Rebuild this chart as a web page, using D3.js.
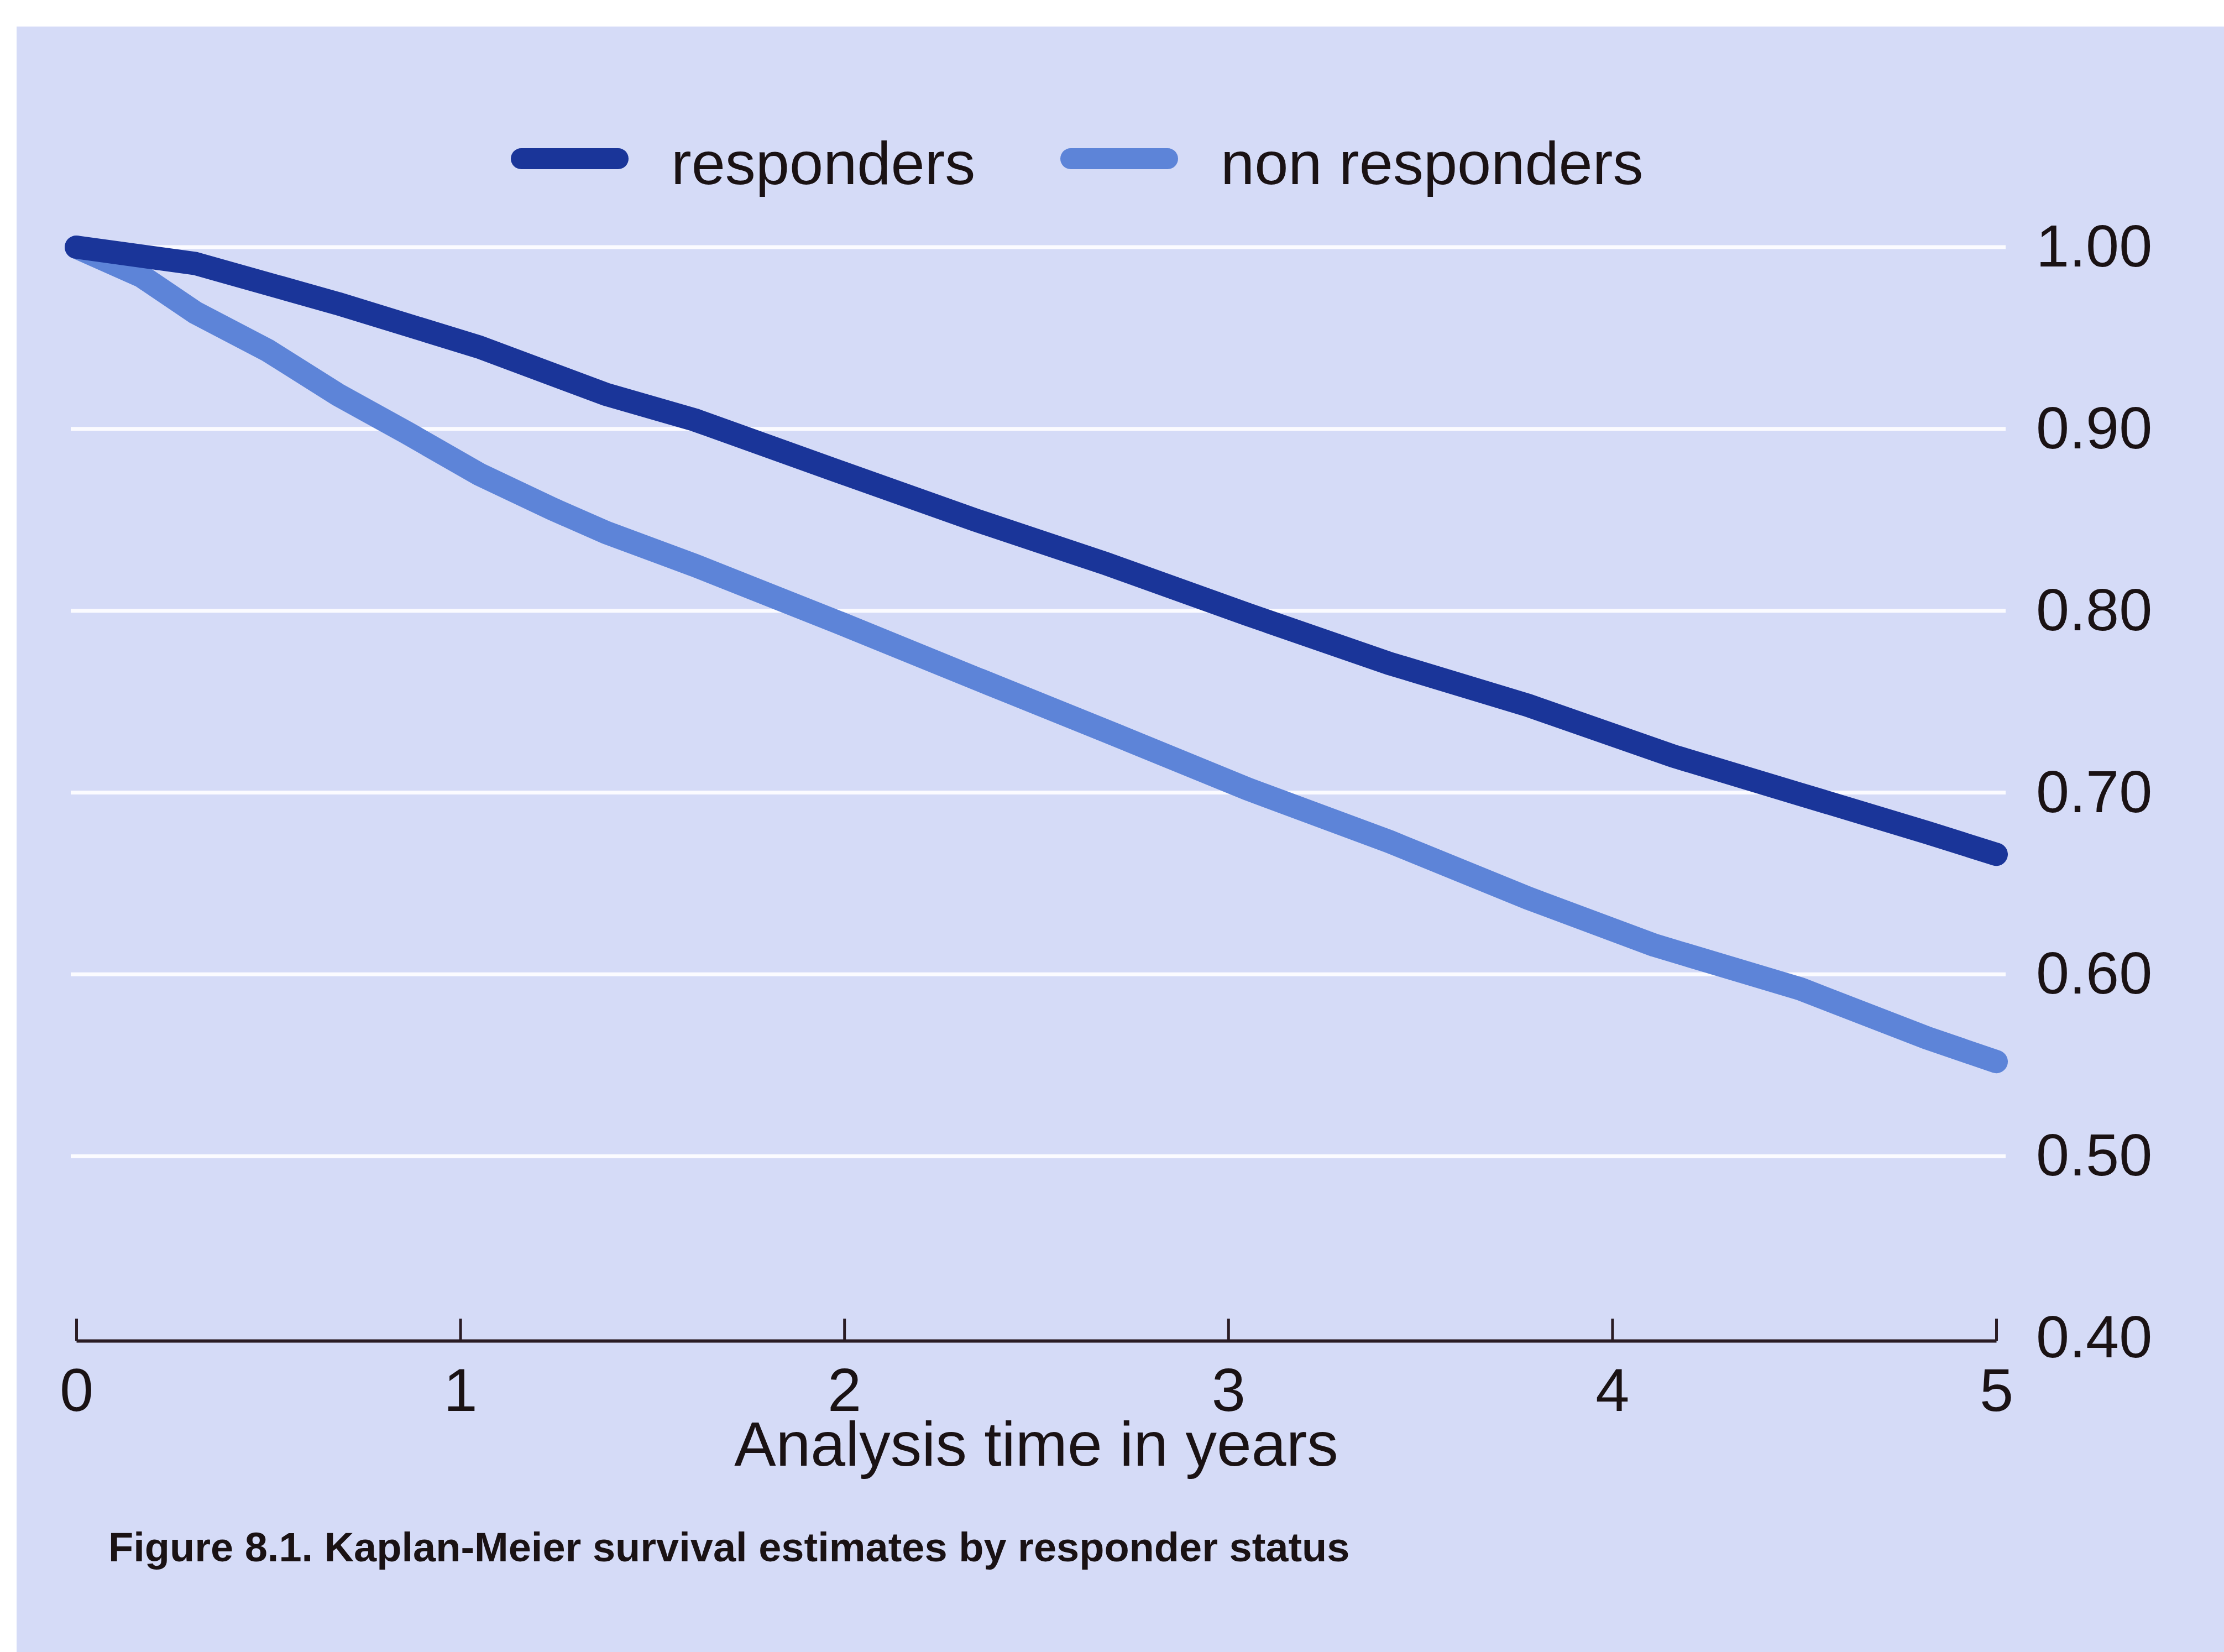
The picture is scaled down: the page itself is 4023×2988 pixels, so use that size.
<!DOCTYPE html>
<html>
<head>
<meta charset="utf-8">
<script src="https://cdn.jsdelivr.net/npm/d3@7"></script>
<style>
  body { margin: 0; background: #fff; }
  text { font-family: "Liberation Sans", Arial, sans-serif; fill: #1a1214; }
</style>
</head>
<body>
<div id="chart"></div>
<script>
const width = 4023;
const height = 2988;

// data
const seriesNames = ["responders", "non responders"];
const seriesColors = ["#1a3599", "#5d84d8"];

const respTime = [0, 0.31, 0.68, 1.05, 1.38, 1.61, 1.98, 2.34, 2.68, 3.05, 3.42, 3.78, 4.16, 4.49, 4.82, 5.0];
const respSurv = [1.0, 0.991, 0.969, 0.945, 0.919, 0.905, 0.877, 0.850, 0.826, 0.798, 0.771, 0.748, 0.720, 0.699, 0.678, 0.666];

const nonTime = [0, 0.17, 0.31, 0.50, 0.68, 0.86, 1.05, 1.24, 1.38, 1.61, 1.98, 2.34, 2.68, 3.05, 3.42, 3.78, 4.11, 4.49, 4.82, 5.0];
const nonSurv = [1.0, 0.984, 0.964, 0.943, 0.919, 0.898, 0.875, 0.856, 0.843, 0.825, 0.794, 0.763, 0.734, 0.702, 0.673, 0.642, 0.616, 0.592, 0.565, 0.552];

const xTicks = [0, 1, 2, 3, 4, 5];
const yTicks = [0.4, 0.5, 0.6, 0.7, 0.8, 0.9, 1.0];

const xTitle = "Analysis time in years";
const caption = "Figure 8.1. Kaplan-Meier survival estimates by responder status";

const svg = d3.select("#chart").append("svg")
    .attr("width", width)
    .attr("height", height);

// page panel
svg.append("rect")
    .attr("x", 30).attr("y", 48)
    .attr("width", width - 30).attr("height", height - 48)
    .attr("fill", "#d5dbf7");

let xScale = d3.scaleLinear().domain([0, 5]).range([138, 3611]);
let yScale = d3.scaleLinear().domain([0.4, 1.0]).range([2420, 447]);

// grid lines
svg.append("g").selectAll("line")
    .data(yTicks.filter(d => d > 0.4))
    .enter().append("line")
    .attr("x1", 128).attr("x2", 3628)
    .attr("y1", d => yScale(d)).attr("y2", d => yScale(d))
    .attr("stroke", "#fbfbff")
    .attr("stroke-width", 7);

// y axis on the right
let yAxis = svg.append("g")
    .attr("transform", "translate(3628,0)")
    .call(d3.axisRight(yScale).tickValues(yTicks).tickFormat(d3.format(".2f")).tickSize(0).tickPadding(55));
yAxis.select(".domain").remove();
yAxis.selectAll("text")
    .style("font-size", "108px")
    .attr("fill", "#1a1214");

// x axis, ticks pointing up
let xAxis = svg.append("g")
    .attr("transform", "translate(0,2425)")
    .call(d3.axisBottom(xScale).tickValues(xTicks).tickFormat(d3.format("d"))
        .tickSizeInner(-40).tickSizeOuter(0).tickPadding(49));
xAxis.select(".domain")
    .attr("stroke", "#2a1c24")
    .attr("stroke-width", 6);
xAxis.selectAll(".tick line")
    .attr("stroke", "#2a1c24")
    .attr("stroke-width", 5);
xAxis.selectAll("text")
    .style("font-size", "110px")
    .attr("fill", "#1a1214");

svg.append("text")
    .attr("x", (xScale(0) + xScale(5)) / 2)
    .attr("y", 2651)
    .attr("text-anchor", "middle")
    .style("font-size", "113px")
    .text(xTitle);

// survival curves
let line = d3.line()
    .x(d => xScale(d[0]))
    .y(d => yScale(d[1]));

const curves = [
    d3.zip(nonTime, nonSurv),
    d3.zip(respTime, respSurv)
];
const curveColors = [seriesColors[1], seriesColors[0]];

svg.append("g").selectAll("path")
    .data(curves)
    .enter().append("path")
    .attr("d", line)
    .attr("fill", "none")
    .attr("stroke", (d, i) => curveColors[i])
    .attr("stroke-width", 42)
    .attr("stroke-linecap", "round")
    .attr("stroke-linejoin", "round");

// legend
const legendX = [943, 1937];
let legend = svg.append("g").selectAll("g")
    .data(seriesNames)
    .enter().append("g")
    .attr("transform", (d, i) => `translate(${legendX[i]},287)`);

legend.append("line")
    .attr("x1", 0).attr("x2", 175)
    .attr("y1", 0).attr("y2", 0)
    .attr("stroke", (d, i) => seriesColors[i])
    .attr("stroke-width", 38)
    .attr("stroke-linecap", "round");

legend.append("text")
    .attr("x", 271)
    .attr("y", 46)
    .style("font-size", "110px")
    .text(d => d);

// caption
svg.append("text")
    .attr("x", 196)
    .attr("y", 2824)
    .style("font-size", "74px")
    .style("font-weight", "bold")
    .text(caption);
</script>
</body>
</html>
